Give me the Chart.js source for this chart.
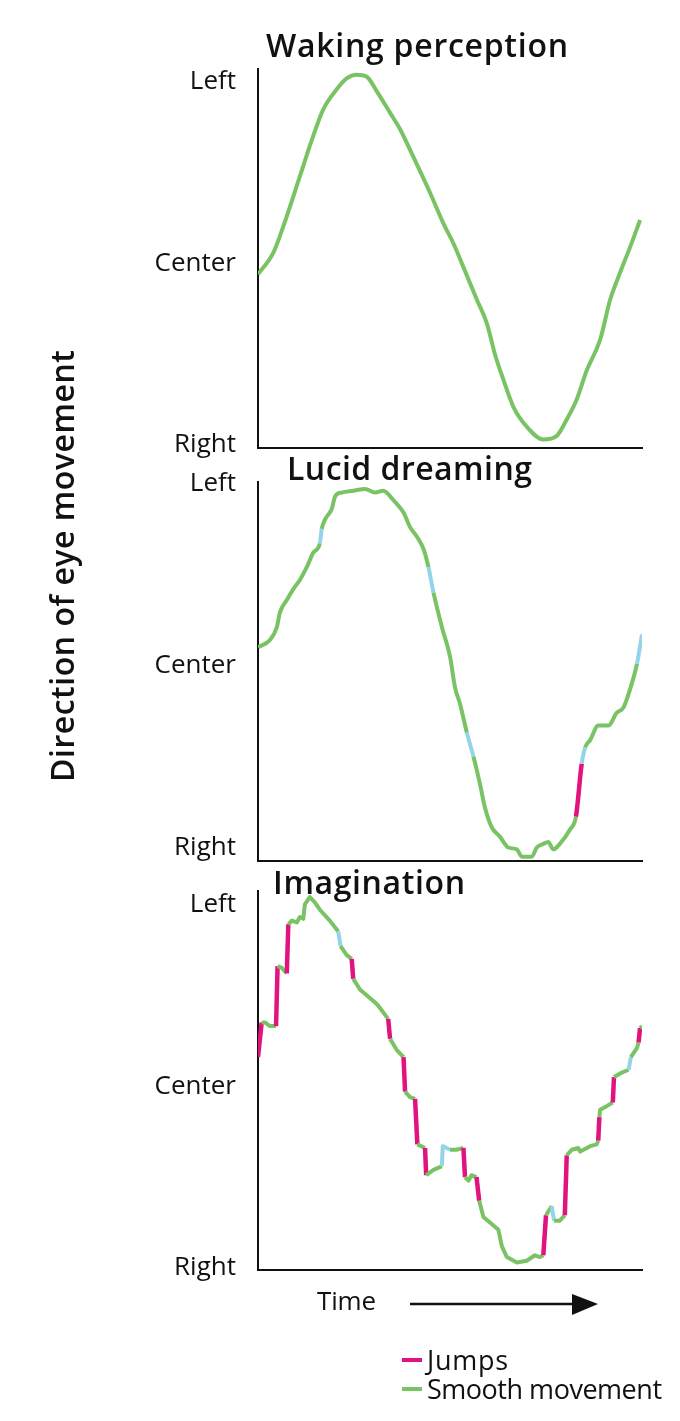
<!DOCTYPE html>
<html>
<head>
<meta charset="utf-8">
<script src="https://cdn.jsdelivr.net/npm/chart.js@4.4.1/dist/chart.umd.min.js"></script>
<style>
  html, body { margin: 0; padding: 0; background: #fff; }
  #wrap { position: relative; width: 680px; height: 1421px; overflow: hidden; }
  #wrap canvas { position: absolute; left: 0; }
  #overlay { position: absolute; left: 0; top: 0; pointer-events: none; }
  #overlay text { font-family: 'Open Sans', sans-serif; fill: #111; }
</style>
</head>
<body>
<div id="wrap">
  <canvas id="wakingChart"></canvas>
  <canvas id="lucidChart"></canvas>
  <canvas id="imagChart"></canvas>
  <svg id="overlay" width="680" height="1421">
    <text x="266" y="57" font-size="32" font-weight="600" textLength="302" lengthAdjust="spacing">Waking perception</text>
    <text x="287" y="480" font-size="32" font-weight="600" textLength="245" lengthAdjust="spacing">Lucid dreaming</text>
    <text x="273" y="894" font-size="32" font-weight="600" textLength="192" lengthAdjust="spacing">Imagination</text>
    <text transform="translate(74,782) rotate(-90)" font-size="32" font-weight="600" textLength="432" lengthAdjust="spacing">Direction of eye movement</text>
    <text x="317" y="1310" font-size="26" textLength="59" lengthAdjust="spacing">Time</text>
    <line x1="410" y1="1304" x2="578" y2="1304" stroke="#111" stroke-width="2.5"/>
    <polygon points="572,1294 598,1304 572,1315" fill="#111"/>
    <line x1="402" y1="1360" x2="422" y2="1360" stroke="#e2137e" stroke-width="4"/>
    <text x="427" y="1370" font-size="27" textLength="81" lengthAdjust="spacing">Jumps</text>
    <line x1="402" y1="1389" x2="422" y2="1389" stroke="#79c365" stroke-width="4"/>
    <text x="427" y="1399" font-size="27" textLength="235" lengthAdjust="spacing">Smooth movement</text>
  </svg>
</div>

<script>
/* ── DATA ───────────────────────────────────── */
// time runs 0..100, eye direction: Right = -1, Center = 0, Left = 1
const yTickValues = [-1, 0, 1];
const yTickLabels = ['Right', 'Center', 'Left'];

const wakingX = [0, 4.0, 7.0, 10.9, 14.0, 17.0, 20.5, 23.1, 25.7, 28.3, 30.9, 34.4, 37.0, 40.4, 44.8, 48.3, 50.9,
    53.5, 57.0, 59.6, 61.7, 63.9, 66.5, 70.0, 74.3, 77.8, 80.4, 83.0, 85.6, 89.1, 91.7, 94.3, 96.9, 99.5];
const wakingY = [-0.06, 0.06, 0.23, 0.48, 0.68, 0.85, 0.96, 1.02, 1.04, 1.03, 0.95, 0.83, 0.74, 0.59, 0.39, 0.22, 0.11,
    -0.02, -0.20, -0.33, -0.50, -0.64, -0.79, -0.90, -0.97, -0.95, -0.86, -0.75, -0.59, -0.42, -0.20, -0.05, 0.09, 0.24];
const wakingJumps = [];
const wakingBlue = [];

const lucidX = [0, 3.1, 4.9, 5.7, 7.5, 9.2, 10.9, 12.7, 14.4, 16.1, 16.6, 17.4, 19.2, 20.1, 21.8, 24.8, 27.9, 30.5,
    32.6, 35.2, 37.9, 39.6, 41.3, 43.1, 44.4, 45.7, 47.9, 50.0, 51.3, 52.6, 54.4, 56.1, 57.8, 59.1, 60.9, 63.0, 65.2,
    67.4, 68.7, 71.3, 72.6, 74.3, 75.6, 76.9, 78.6, 81.3, 82.8, 84.3, 85.2, 86.5, 88.6, 91.3, 93.4, 95.2, 96.9, 98.7, 100];
const lucidY = [0.10, 0.14, 0.21, 0.29, 0.36, 0.42, 0.47, 0.54, 0.62, 0.67, 0.75, 0.80, 0.86, 0.93, 0.95, 0.96, 0.97, 0.95,
    0.96, 0.91, 0.84, 0.76, 0.71, 0.64, 0.54, 0.40, 0.21, 0.05, -0.12, -0.21, -0.37, -0.50, -0.65, -0.78, -0.89, -0.94, -1.00,
    -1.01, -1.05, -1.05, -1.00, -0.98, -0.97, -1.01, -0.98, -0.90, -0.83, -0.54, -0.45, -0.41, -0.33, -0.33, -0.26, -0.23, -0.13, 0.01, 0.17];
const lucidJumps = [46];
const lucidBlue = [9, 24, 30, 47, 55];

const imagX = [0, 0.96, 1.8, 3.1, 4.7, 5.1, 6.2, 7.5, 7.9, 8.8, 10.1, 10.9, 11.8, 12.2, 13.5, 14.8, 16.1, 18.7, 20.9, 21.5,
    23.1, 24.4, 24.8, 26.6, 28.3, 31.0, 33.9, 34.4, 36.1, 37.9, 38.3, 39.6, 40.9, 41.5, 43.5, 43.8, 45.7, 47.9, 48.1, 50.0,
    51.7, 53.5, 53.9, 54.8, 55.6, 56.9, 57.6, 58.7, 60.4, 62.6, 63.5, 64.8, 67.4, 70.0, 72.1, 73.4, 74.3, 75.0, 76.5, 77.1,
    78.6, 79.9, 80.4, 81.7, 83.4, 83.9, 86.5, 88.2, 88.6, 88.9, 89.1, 90.8, 92.4, 92.7, 94.3, 96.5, 97.1, 98.7, 99.1, 99.5, 100];
const imagY = [0.16, 0.35, 0.35, 0.33, 0.33, 0.66, 0.65, 0.62, 0.89, 0.91, 0.90, 0.93, 0.92, 1.00, 1.04, 1.01, 0.97, 0.91, 0.85, 0.77,
    0.72, 0.70, 0.59, 0.53, 0.50, 0.45, 0.37, 0.26, 0.20, 0.16, -0.03, -0.06, -0.07, -0.32, -0.34, -0.49, -0.46, -0.44, -0.33, -0.35,
    -0.35, -0.34, -0.50, -0.52, -0.49, -0.50, -0.63, -0.72, -0.75, -0.79, -0.88, -0.94, -0.97, -0.96, -0.93, -0.94, -0.93, -0.71, -0.66, -0.74,
    -0.74, -0.71, -0.38, -0.35, -0.34, -0.36, -0.33, -0.32, -0.30, -0.17, -0.13, -0.11, -0.09, 0.05, 0.07, 0.09, 0.16, 0.21, 0.24, 0.32, 0.33];
const imagJumps = [0, 4, 7, 21, 26, 29, 32, 34, 41, 45, 56, 61, 68, 72, 78];
const imagBlue = [18, 37, 38, 58, 75];

/* ── STYLE ──────────────────────────────────── */
const GREEN   = '#79c365';
const MAGENTA = '#e2137e';
const BLUE    = '#93d4e8';
const INK     = '#111111';

const AXIS_LEFT  = 258;
const AXIS_RIGHT = 642;
const PAD = 24;

const panels = [
    { id: 'wakingChart', xs: wakingX, ys: wakingY, jumps: wakingJumps, blue: wakingBlue,
      top: 69,  bottom: 448,  min: -1.017, max: 1.072, smooth: true },
    { id: 'lucidChart',  xs: lucidX,  ys: lucidY,  jumps: lucidJumps,  blue: lucidBlue,
      top: 482, bottom: 861,  min: -1.074, max: 1.008, smooth: true },
    { id: 'imagChart',   xs: imagX,   ys: imagY,   jumps: imagJumps,   blue: imagBlue,
      top: 891, bottom: 1270, min: -1.011, max: 1.073, smooth: false }
];

/* ── CHARTS ─────────────────────────────────── */
function drawPanels() {
    panels.forEach(p => {
        const el = document.getElementById(p.id);
        const h = (p.bottom - p.top) + PAD * 2;
        el.width = 680;
        el.height = h;
        el.style.top = (p.top - PAD) + 'px';
        el.style.width = '680px';
        el.style.height = h + 'px';

        const points = p.xs.map((x, i) => ({ x: x, y: p.ys[i] }));

        new Chart(el, {
            type: 'line',
            data: {
                datasets: [{
                    data: points,
                    borderColor: GREEN,
                    borderWidth: 4,
                    pointRadius: 0,
                    fill: false,
                    tension: 0,
                    cubicInterpolationMode: p.smooth ? 'monotone' : 'default',
                    borderJoinStyle: 'round',
                    segment: {
                        borderColor: ctx => p.jumps.includes(ctx.p0DataIndex) ? MAGENTA
                            : (p.blue.includes(ctx.p0DataIndex) ? BLUE : GREEN),
                        borderWidth: ctx => p.jumps.includes(ctx.p0DataIndex) ? 4.5 : 4
                    }
                }]
            },
            options: {
                responsive: false,
                animation: false,
                events: [],
                layout: { padding: { left: 0, right: 680 - AXIS_RIGHT, top: PAD, bottom: PAD } },
                plugins: { legend: { display: false }, tooltip: { enabled: false } },
                scales: {
                    x: {
                        type: 'linear',
                        min: 0,
                        max: 100,
                        grid: { display: false, drawTicks: false },
                        border: { display: true, color: INK, width: 2 },
                        ticks: { display: false },
                        afterFit: scale => {
                            scale.height = 0;
                            scale.paddingLeft = 0;
                            scale.paddingRight = 0;
                        }
                    },
                    y: {
                        type: 'linear',
                        min: p.min,
                        max: p.max,
                        grid: { display: false, drawTicks: false },
                        border: { display: true, color: INK, width: 2 },
                        afterBuildTicks: scale => {
                            scale.ticks = yTickValues.map(v => ({ value: v }));
                        },
                        afterFit: scale => {
                            scale.width = AXIS_LEFT;
                            scale.paddingTop = 0;
                            scale.paddingBottom = 0;
                        },
                        ticks: {
                            autoSkip: false,
                            padding: 22,
                            color: INK,
                            font: { family: "'Open Sans', sans-serif", size: 26 },
                            callback: value => yTickLabels[yTickValues.indexOf(value)]
                        }
                    }
                }
            }
        });
    });
}

drawPanels();
</script>
</body>
</html>
